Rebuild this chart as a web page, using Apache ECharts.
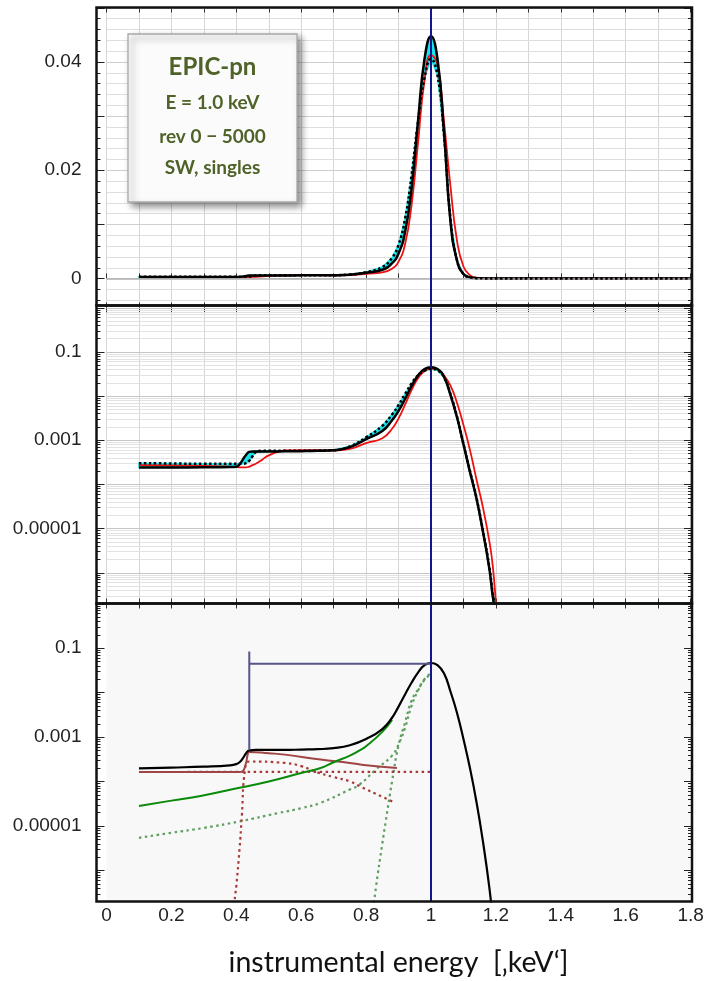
<!DOCTYPE html>
<html><head><meta charset="utf-8">
<script src="https://cdn.jsdelivr.net/npm/echarts@6/dist/echarts.min.js"></script>
<style>html,body{margin:0;padding:0;background:#fff}#c{width:708px;height:981px}</style>
</head><body><div id="c"></div>
<script>
// ---------- data ----------
const energy = [0.10,0.20,0.30,0.38,0.40,0.41,0.42,0.43,0.44,0.45,0.46,0.48,0.50,0.55,0.60,0.65,0.70,0.75,0.80,0.85,0.88,0.90,0.92,0.94,0.96,0.98,1.00,1.02,1.04,1.06,1.08,1.10,1.12,1.14,1.16,1.18,1.19,1.20,1.22,1.25,1.30,1.80];
const blackModel = [2.4e-4,2.4e-4,2.42e-4,2.45e-4,2.5e-4,2.8e-4,3.6e-4,4.6e-4,5.4e-4,5.5e-4,5.5e-4,5.5e-4,5.5e-4,5.55e-4,5.6e-4,5.7e-4,5.9e-4,6.9e-4,1.05e-3,1.6e-3,2.8e-3,4.6e-3,8.5e-3,0.0165,0.029,0.0405,0.0447,0.0405,0.027,0.0105,3.3e-3,8.0e-4,1.9e-4,4.8e-5,8.5e-6,1.2e-6,3e-7,1e-7,1e-8,1e-10,1e-12,1e-12];
const blackSim = [3.0e-4,2.95e-4,2.9e-4,2.9e-4,2.9e-4,2.9e-4,2.9e-4,3.0e-4,3.4e-4,4.3e-4,5.3e-4,5.7e-4,5.7e-4,5.7e-4,5.7e-4,5.75e-4,5.9e-4,7.2e-4,1.15e-3,2.1e-3,3.8e-3,6.2e-3,0.011,0.019,0.029,0.037,0.0405,0.0375,0.0265,0.011,3.4e-3,8.2e-4,2.0e-4,5e-5,9e-6,1.3e-6,3.5e-7,1.3e-7,1e-8,1e-10,1e-12,1e-12];
const redMeasured = [2.7e-4,2.65e-4,2.6e-4,2.5e-4,2.45e-4,2.4e-4,2.4e-4,2.4e-4,2.5e-4,2.7e-4,2.9e-4,3.6e-4,4.5e-4,5.8e-4,5.9e-4,5.9e-4,5.8e-4,6.3e-4,8.5e-4,1.1e-3,1.8e-3,3.1e-3,6.3e-3,0.0135,0.025,0.0365,0.0412,0.0395,0.029,0.017,7.0e-3,2.2e-3,6.0e-4,1.3e-4,3.0e-5,5e-6,1.5e-6,2e-7,1e-9,1e-12,1e-12,1e-12];

// bottom panel: model components [energy, value]
const totalModel = [[0.10,1.96e-4],[0.20,2.05e-4],[0.30,2.15e-4],[0.38,2.3e-4],[0.40,2.45e-4],[0.41,2.7e-4],[0.42,3.3e-4],[0.43,4.3e-4],[0.44,5.0e-4],[0.46,5.1e-4],[0.50,5.1e-4],[0.55,5.1e-4],[0.60,5.2e-4],[0.65,5.3e-4],[0.70,5.6e-4],[0.75,6.5e-4],[0.80,9.0e-4],[0.85,1.5e-3],[0.88,2.7e-3],[0.90,4.8e-3],[0.92,9.0e-3],[0.94,0.0165],[0.96,0.028],[0.98,0.041],[1.00,0.046],[1.02,0.041],[1.04,0.027],[1.06,0.0105],[1.08,3.5e-3],[1.10,9.0e-4],[1.12,2.0e-4],[1.14,3.5e-5],[1.16,4.5e-6],[1.18,4e-7],[1.19,8e-8],[1.20,1e-8],[1.25,1e-12]];
const greenLine = [[0.10,2.8e-5],[0.20,3.7e-5],[0.29,4.7e-5],[0.41,7.2e-5],[0.50,1.0e-4],[0.60,1.55e-4],[0.66,2.0e-4],[0.70,2.7e-4],[0.75,3.8e-4],[0.78,5.0e-4],[0.80,6.2e-4],[0.85,1.3e-3],[0.88,2.4e-3]];
const greenDotLow = [[0.10,5.4e-6],[0.20,7.0e-6],[0.30,9.0e-6],[0.41,1.26e-5],[0.53,1.95e-5],[0.60,2.5e-5],[0.66,3.3e-5],[0.75,6.6e-5],[0.78,8.5e-5],[0.83,1.85e-4],[0.88,3.8e-4],[0.90,6.8e-4],[0.92,1.6e-3],[0.94,5.0e-3],[0.96,0.011],[0.98,0.02],[1.00,0.027]];
const greenDotPeak = [[0.82,1e-7],[0.83,4e-7],[0.85,4e-6],[0.86,1.2e-5],[0.88,1.0e-4],[0.90,6.5e-4],[0.92,2.1e-3],[0.94,6.5e-3],[0.96,0.0115],[0.98,0.019],[1.00,0.026]];
const redLine = [[0.10,1.63e-4],[0.30,1.63e-4],[0.41,1.63e-4],[0.42,1.7e-4],[0.43,2.6e-4],[0.435,4.0e-4],[0.44,4.6e-4],[0.50,4.3e-4],[0.55,4.0e-4],[0.66,3.1e-4],[0.75,2.6e-4],[0.80,2.3e-4],[0.895,2.0e-4]];
const redDotFlat = [[0.25,1.63e-4],[1.00,1.63e-4]];
const redDotEdge = [[0.39,1e-8],[0.395,2e-7],[0.40,4.4e-7],[0.41,3e-6],[0.417,1.65e-5],[0.427,1.85e-4],[0.44,2.8e-4],[0.55,2.6e-4],[0.60,2.2e-4],[0.65,1.6e-4],[0.70,1.25e-4],[0.75,1.0e-4],[0.78,7.8e-5],[0.85,4.5e-5],[0.89,3.3e-5]];
const edgeMarker = [[0.44,5.0e-4],[0.44,0.083]];
const peakMarker = [[0.44,0.0444],[1.00,0.0444]];
const lineEnergy = [1.0];

const xTickLabels = ['0','0.2','0.4','0.6','0.8','1','1.2','1.4','1.6','1.8'];
const linTickLabels = {'0':'0','0.02':'0.02','0.04':'0.04'};
const logTickLabels = {1:'0.1',3:'0.001',5:'0.00001'};

// ---------- layout ----------
const FRAME_L = 96.5, FRAME_R = 692;
const PANEL_TOP = [7.5, 305.5, 603.5], PANEL_H = 298;
const GRID_L = 106.5, GRID_W = 584.1;
const FONT = 'Liberation Sans, Arial, sans-serif';
const LOG_MAX = 6.7;

const lt = v => -Math.log10(v);

// decoration values
const linGrid = [];
for (let k = -2; k <= 25; k++) linGrid.push([+(k*0.002).toFixed(4), k % 5 === 0 ? 1 : 0]);
const logGrid = [];
for (let d = 0; d >= -7; d--) for (let m = 1; m <= 9; m++) {
  const t = -(d + Math.log10(m));
  if (t >= -1e-9 && t <= LOG_MAX) logGrid.push([t, m === 1 ? 1 : 0]);
}

function gridTicks(g, values, showGrid, cMajor, cMinor) {
  return {
    type: 'custom', xAxisIndex: 2*g, yAxisIndex: g, silent: true, z: 1,
    data: values.map(v => [0, v[0], v[1]]),
    encode: {x: 0, y: 1},
    renderItem: (params, api) => {
      const cs = params.coordSys;
      const yy = Math.round(api.coord([0, api.value(1)])[1]) + 0.5;
      const major = api.value(2);
      const len = major ? 8 : 4;
      const ch = [];
      if (showGrid) ch.push({type:'line', shape:{x1:cs.x, y1:yy, x2:cs.x+cs.width, y2:yy}, style:{stroke: major ? cMajor : cMinor, lineWidth:1}});
      ch.push({type:'line', shape:{x1:FRAME_L, y1:yy, x2:FRAME_L+len, y2:yy}, style:{stroke:'#222', lineWidth:1}});
      ch.push({type:'line', shape:{x1:FRAME_R-len, y1:yy, x2:FRAME_R, y2:yy}, style:{stroke:'#222', lineWidth:1}});
      return {type:'group', children: ch};
    }
  };
}

// cyan band between two curves, drawn through the axes
function bandSeries(g, upper, lower) {
  return {
    type:'custom', xAxisIndex:2*g, yAxisIndex:g, silent:true, z:2,
    data:[[upper[0][0], upper[0][1]]], encode:{x:0, y:1},
    renderItem:(params, api) => {
      const pts = upper.concat(lower.slice().reverse()).map(p => api.coord(p));
      return {type:'polygon', shape:{points:pts, smooth:0}, style:{fill:'#1ae4ec', stroke:'#1ae4ec', lineWidth:1.5}};
    }
  };
}

function lineS(g, data, color, width, dash, z, smooth) {
  return {
    type:'line', xAxisIndex: 2*g, yAxisIndex: g, data, showSymbol:false, symbol:'none',
    smooth: smooth === undefined ? 0.5 : smooth, z: z || 3, silent:true,
    lineStyle:{color, width, type: dash || 'solid', cap:'butt'}
  };
}

function navyLine(g) {
  return {
    type:'line', xAxisIndex:2*g, yAxisIndex:g, data:[[lineEnergy[0], g===0?0:1]], showSymbol:false, symbol:'none', z:8, silent:true,
    lineStyle:{width:0},
    markLine:{silent:true, symbol:['none','none'], label:{show:false}, animation:false,
      lineStyle:{color:'#14148c', width:2, type:'solid'}, data: lineEnergy.map(e => ({xAxis:e}))}
  };
}

// ---------- series ----------
const series = [];
// panel 1 (linear)
series.push(gridTicks(0, linGrid, true, '#cfcfcf', '#dedede'));
series.push({type:'line', xAxisIndex:0, yAxisIndex:0, data:[[0.5,0]], showSymbol:false, symbol:'none', z:1, silent:true, lineStyle:{width:0},
  markLine:{silent:true, symbol:['none','none'], label:{show:false}, animation:false, lineStyle:{color:'#b0b0b0', width:1.5, type:'solid'}, data:[{yAxis:0}]}});
series.push(bandSeries(0,
  energy.map((e,i)=>[e, Math.max(blackModel[i], blackSim[i])]),
  energy.map((e,i)=>[e, Math.min(blackModel[i], blackSim[i])])));
series.push(lineS(0, energy.map((e,i)=>[e, redMeasured[i]]), '#ee1111', 1.8, 'solid', 3));
series.push(lineS(0, energy.map((e,i)=>[e, blackModel[i]]), '#000000', 2.5, 'solid', 4));
series.push(lineS(0, energy.map((e,i)=>[e, blackSim[i]]), '#000000', 2.5, [2.5,2.5], 5));
series.push(navyLine(0));

// panel 2 (log)
const clampLog = v => Math.min(lt(v), LOG_MAX);
series.push(gridTicks(1, logGrid, true, '#c6c6c6', '#e2e2e2'));
series.push(bandSeries(1,
  energy.map((e,i)=>[e, Math.min(clampLog(blackModel[i]), clampLog(blackSim[i]))]),
  energy.map((e,i)=>[e, Math.max(clampLog(blackModel[i]), clampLog(blackSim[i]))])));
series.push(lineS(1, energy.map((e,i)=>[e, lt(redMeasured[i])]), '#ee1111', 1.8, 'solid', 3));
series.push(lineS(1, energy.map((e,i)=>[e, lt(blackModel[i])]), '#000000', 2.5, 'solid', 4));
series.push(lineS(1, energy.map((e,i)=>[e, lt(blackSim[i])]), '#000000', 2.5, [2.5,2.5], 5));
series.push(navyLine(1));

// panel 3 (log, components)
const toLog = arr => arr.map(p => [p[0], lt(p[1])]);
series.push(gridTicks(2, logGrid, false));
series.push(lineS(2, toLog(greenDotLow), '#5f9e5f', 2.2, [2.5,3.5], 2));
series.push(lineS(2, toLog(greenDotPeak), '#5f9e5f', 2.2, [2.5,3.5], 2));
series.push(lineS(2, toLog(redDotFlat), '#a83a3a', 2.2, [2.5,3.5], 2, false));
series.push(lineS(2, toLog(redDotEdge), '#a83a3a', 2.2, [2.5,3.5], 2));
series.push(lineS(2, toLog(redLine), '#a04545', 2, 'solid', 3));
series.push(lineS(2, toLog(greenLine), '#0a8a0a', 2, 'solid', 3));
series.push(lineS(2, toLog(totalModel), '#000000', 2.2, 'solid', 4));
series.push(lineS(2, toLog(edgeMarker), '#55558c', 2, 'solid', 4, false));
series.push(lineS(2, toLog(peakMarker), '#55558c', 2, 'solid', 4, false));
series.push(navyLine(2));

// ---------- axes ----------
const grids = [
  {left:GRID_L, width:GRID_W, top:PANEL_TOP[0], height:PANEL_H},
  {left:GRID_L, width:GRID_W, top:PANEL_TOP[1]+2, height:PANEL_H-2},
  {left:GRID_L, width:GRID_W, top:PANEL_TOP[2], height:PANEL_H, show:true, backgroundColor:'#f8f8f8', borderWidth:0, borderColor:'transparent'}
];
const xAxes = [];
for (let g = 0; g < 3; g++) {
  xAxes.push({type:'value', gridIndex:g, position:'bottom', min:0, max:1.8, interval:0.1,
    axisLine:{show:false}, axisTick:{show:true, inside:true, length:5, lineStyle:{color:'#333'}},
    axisLabel:{show: g===2, fontSize:19, color:'#222', fontFamily:FONT, margin:5,
      formatter: v => { const k = Math.round(v*5); return Math.abs(v*5-k) < 1e-6 ? xTickLabels[k] : ''; }},
    splitLine:{show: g<2, lineStyle:{color:'#d6d6d6', width:1}}});
  xAxes.push({type:'value', gridIndex:g, position:'top', min:0, max:1.8, interval:0.1,
    axisLine:{show:false}, axisTick:{show:true, inside:true, length:5, lineStyle:{color:'#333'}},
    axisLabel:{show:false}, splitLine:{show:false}});
}
const logFmt = v => { const r = Math.round(v); return (Math.abs(v-r) < 1e-6 && logTickLabels[r]) ? logTickLabels[r] : ''; };
const yAxes = [
  {type:'value', gridIndex:0, position:'left', offset:GRID_L-FRAME_L, min:-0.005, max:0.05, interval:0.005,
    axisLine:{show:false}, axisTick:{show:false}, splitLine:{show:false},
    axisLabel:{fontSize:19, color:'#222', fontFamily:FONT, margin:15,
      formatter: v => { const key = String(+v.toFixed(3)); return linTickLabels[key] || ''; }}},
  {type:'value', gridIndex:1, position:'left', offset:GRID_L-FRAME_L, min:0, max:LOG_MAX, interval:1, inverse:true,
    axisLine:{show:false}, axisTick:{show:false}, splitLine:{show:false},
    axisLabel:{fontSize:19, color:'#222', fontFamily:FONT, margin:15, formatter: logFmt}},
  {type:'value', gridIndex:2, position:'left', offset:GRID_L-FRAME_L, min:0, max:LOG_MAX, interval:1, inverse:true,
    axisLine:{show:false}, axisTick:{show:false}, splitLine:{show:false},
    axisLabel:{fontSize:19, color:'#222', fontFamily:FONT, margin:15, formatter: logFmt}}
];

// ---------- graphics: frames, text box, axis title ----------
const graphic = [];
for (let g = 0; g < 3; g++) {
  graphic.push({type:'rect', zlevel:1, z:100, silent:true, shape:{x:FRAME_L, y:PANEL_TOP[g], width:FRAME_R-FRAME_L, height:PANEL_H},
    style:{fill:'none', stroke:'#111', lineWidth:2.5}});
}
const BOX = {x:128, y:34, w:169, h:168};
const OLIVE = '#4f6228';
const noShadow = {shadowBlur:0, shadowOffsetX:0, shadowOffsetY:0, shadowColor:'rgba(0,0,0,0)'};
graphic.push({type:'rect', zlevel:1, z:101, silent:true, shape:{x:BOX.x, y:BOX.y, width:BOX.w, height:BOX.h},
  style:{fill:'#fbfbfb', stroke:'#a8a8a8', lineWidth:1.3, shadowBlur:7, shadowOffsetX:4, shadowOffsetY:4, shadowColor:'rgba(0,0,0,0.45)'}});
const boxLines = [['EPIC-pn', 24, 67], ['E = 1.0 keV', 19, 103], ['rev 0 \u2212 5000', 19, 137], ['SW, singles', 19, 168]];
boxLines.forEach(([t, fs, y]) => graphic.push({type:'text', zlevel:1, z:102, silent:true, x:BOX.x+BOX.w/2, y,
  style:Object.assign({text:t, font:'bold '+fs+'px Lato', fill:OLIVE, align:'center', verticalAlign:'middle', textShadowBlur:0}, noShadow)}));
graphic.push({type:'text', zlevel:1, z:101, silent:true, x:GRID_L+GRID_W/2, y:963,
  style:Object.assign({text:'instrumental energy  [\u201AkeV\u2018]', font:'28.5px Lato', fill:'#111', align:'center', verticalAlign:'middle'}, noShadow)});

const chart = echarts.init(document.getElementById('c'), null, {renderer:'canvas'});
chart.setOption({
  animation:false, backgroundColor:'#ffffff',
  grid: grids, xAxis: xAxes, yAxis: yAxes, series, graphic
});
</script></body></html>
